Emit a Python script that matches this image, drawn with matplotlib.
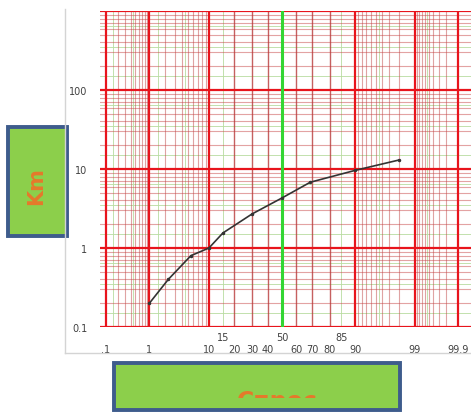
import numpy as np
import matplotlib
matplotlib.use('Agg')
import matplotlib.pyplot as plt
from matplotlib.patches import Rectangle
from matplotlib.lines import Line2D
from matplotlib.ticker import NullLocator
from statistics import NormalDist

# data (x = cumulative %, y = Km)
prob = [1, 2.3, 5.5, 10, 15, 30, 50, 69, 90, 98]
km = [0.2, 0.4, 0.8, 1.0, 1.55, 2.7, 4.3, 6.8, 9.6, 13]

row1_labels = ['15', '50', '85']
row1_pos = [15, 50, 85]
row2_labels = ['.1', '1', '10', '20', '30', '40', '60', '70', '80', '90', '99', '99.9']
row2_pos = [0.1, 1, 10, 20, 30, 40, 60, 70, 80, 90, 99, 99.9]
y_ticks = [0.1, 1, 10, 100]
y_labels = ['0.1', '1', '10', '100']

# grid lines of the probability paper
p_major = [0.1, 1, 10, 90, 99, 99.9]
p_mid = [20, 30, 40, 60, 70, 80]
p_minor = ([i / 10 for i in range(2, 10)] + list(range(2, 10)) +
           list(range(91, 99)) + [99 + i / 10 for i in range(1, 9)])
p_green = [0.15, 0.45, 1.5, 4.5, 15, 85, 95.5, 99.45]
y_green = [1.5, 3.5, 6.5]

nd = NormalDist()
_ppf = np.vectorize(nd.inv_cdf, otypes=[float])
_cdf = np.vectorize(nd.cdf, otypes=[float])


def fwd(p):
    p = np.clip(np.asarray(p, dtype=float) / 100, 1e-9, 1 - 1e-9)
    return _ppf(p)


def inv(z):
    return _cdf(np.asarray(z, dtype=float)) * 100


W, H = 471, 414
fig = plt.figure(figsize=(W / 100, H / 100), dpi=100)
ax = fig.add_axes([100 / W, 1 - 328 / H, 371 / W, 316 / H])
ax.set_xscale('function', functions=(fwd, inv))
ax.set_yscale('log')
ax.set_xlim(inv(-3.193), inv(3.316))
ax.set_ylim(0.1, 1000)

# horizontal lines
for k in range(-1, 3):
    base = 10.0 ** k
    for m in range(2, 10):
        ax.axhline(m * base, color='#c84848', lw=0.8, alpha=0.5, zorder=1)
    for m in y_green:
        ax.axhline(m * base, color='#b8dca0', lw=0.6, zorder=0.9)
for k in range(-1, 4):
    ax.axhline(10.0 ** k, color='#e8141c', lw=1.6, zorder=2)

# vertical lines
for p in p_green:
    ax.axvline(p, color='#b8dca0', lw=0.6, zorder=0.9)
for p in p_minor:
    ax.axvline(p, color='#c04848', lw=0.8, alpha=0.5, zorder=1)
for p in p_mid:
    ax.axvline(p, color='#b83838', lw=1.0, alpha=0.8, zorder=1)
for p in p_major:
    ax.axvline(p, color='#e8141c', lw=1.6, zorder=2)
ax.axvline(50, color='#33d633', lw=2.2, zorder=3)

ax.plot(prob, km, color='#333333', lw=1.2, marker='o', ms=1.5, zorder=5)

for s in ax.spines.values():
    s.set_visible(False)
ax.set_xticks([])
ax.xaxis.set_minor_locator(NullLocator())
ax.set_yticks(y_ticks, y_labels)
ax.yaxis.set_minor_locator(NullLocator())
ax.tick_params(axis='y', length=0, pad=9, labelsize=7, labelcolor='#404040')

tr = ax.get_xaxis_transform()
for lab, p in zip(row1_labels, row1_pos):
    ax.text(p, -0.032, lab, transform=tr, ha='center', va='center',
            fontsize=7, color='#404040')
for lab, p in zip(row2_labels, row2_pos):
    ax.text(p, -0.07, lab, transform=tr, ha='center', va='center',
            fontsize=7, color='#404040', clip_on=False)

# chart frame lines
fig.add_artist(Line2D([65 / W, 65 / W], [1 - 10 / H, 1 - 354 / H],
                      transform=fig.transFigure, color='#d4d4d4', lw=1))
fig.add_artist(Line2D([65 / W, 1], [1 - 354 / H, 1 - 354 / H],
                      transform=fig.transFigure, color='#d4d4d4', lw=1))

# axis title boxes
fig.add_artist(Rectangle((8 / W, 1 - 237 / H), 59 / W, 109 / H, transform=fig.transFigure,
                         facecolor='#8ccf4b', edgecolor='#3e5c8c', lw=2.8))
fig.text(36 / W, 1 - 186 / H, 'Km', rotation=90, ha='center', va='center',
         fontsize=15, fontweight='bold', color='#e5792b')

fig.add_artist(Rectangle((114 / W, 1 - 411 / H), 286 / W, 47 / H, transform=fig.transFigure,
                         facecolor='#8ccf4b', edgecolor='#3e5c8c', lw=2.8))
clip = Rectangle((114 / W, 1 - 399 / H), 286 / W, 30 / H, transform=fig.transFigure,
                 facecolor='none', edgecolor='none')
fig.add_artist(clip)
t = fig.text(277 / W, 1 - 409 / H, 'Спрос', ha='center', va='baseline',
             fontsize=17, fontweight='bold', color='#e5792b')
t.set_clip_path(clip)
t.set_clip_on(True)

fig.savefig('out.png', dpi=100, facecolor='white')
